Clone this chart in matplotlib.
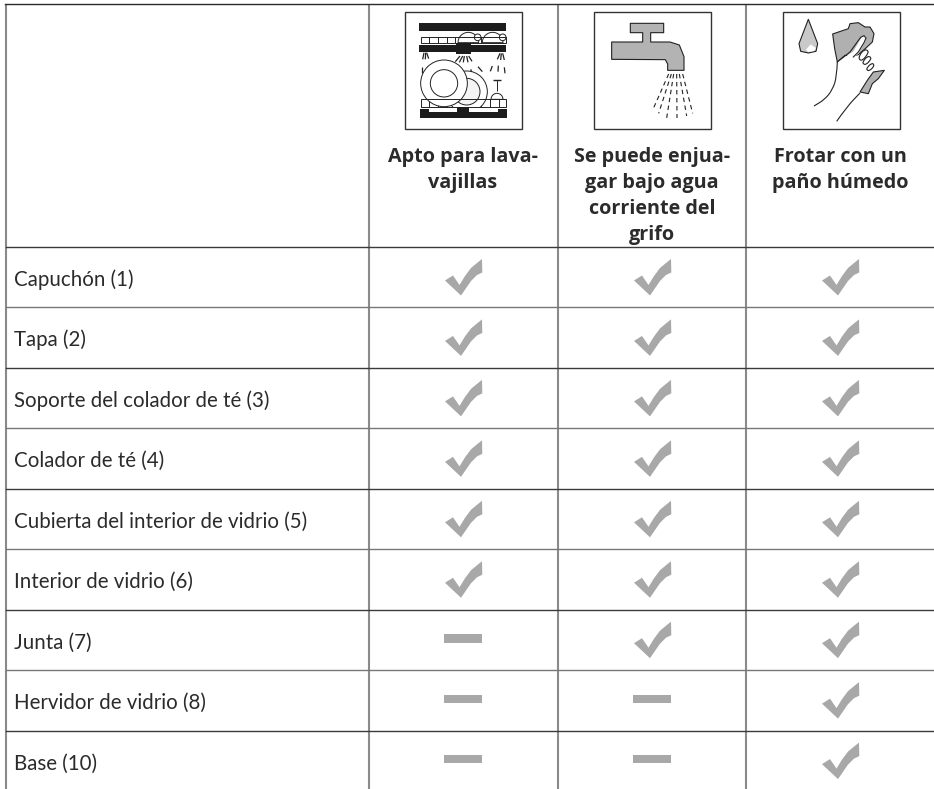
import numpy as np
import matplotlib
matplotlib.use("Agg")
import matplotlib.pyplot as plt
from matplotlib.patches import Polygon, Rectangle, Circle, PathPatch, Wedge
from matplotlib.path import Path

row_labels = ["Capuchón (1)", "Tapa (2)", "Soporte del colador de té (3)", "Colador de té (4)",
              "Cubierta del interior de vidrio (5)", "Interior de vidrio (6)", "Junta (7)",
              "Hervidor de vidrio (8)", "Base (10)"]
col_labels = [["Apto para lava-", "vajillas"],
              ["Se puede enjua-", "gar bajo agua", "corriente del", "grifo"],
              ["Frotar con un", "paño húmedo"]]
dishwasher = [1, 1, 1, 1, 1, 1, 0, 0, 0]
tap_rinse = [1, 1, 1, 1, 1, 1, 1, 0, 0]
damp_cloth = [1, 1, 1, 1, 1, 1, 1, 1, 1]
suitability = [dishwasher, tap_rinse, damp_cloth]

W, H = 934, 789
fig = plt.figure(figsize=(W / 100, H / 100), dpi=100)
ax = fig.add_axes([0, 0, 1, 1])
ax.set_xlim(0, W); ax.set_ylim(H, 0); ax.axis("off")

DARK = "#3a3a3a"; MID = "#777777"; MARK = "#a8a8a8"; TXT = "#2b2b2b"
row_top = 247.0; row_h = 60.45
col_lines = [6.0, 369.0, 557.7, 746.0]
col_mid = [463.0, 652.0, 840.0]
icon_x = [405.0, 594.0, 783.0]

# grid
for x in col_lines:
    ax.plot([x, x], [3.5, H], color="#8a8a8a", lw=1.5, zorder=1, solid_capstyle="butt")
ax.plot([5, W], [3.7, 3.7], color="#2a2a2a", lw=1.0, zorder=2)
for i in range(len(row_labels)):
    y = row_top + i * row_h
    ax.plot([6, W], [y, y], color=DARK if i % 2 == 0 else MID, lw=1.0, zorder=2)
    ax.text(14, y + 39.0, row_labels[i], family="Lato", fontsize=14.8, color=TXT, va="baseline", ha="left")

# header text
for mid, lines in zip(col_mid, col_labels):
    for k, s in enumerate(lines):
        ax.text(mid, 161.7 + k * 26.2, s, family="Open Sans", fontweight="bold", fontsize=14.2,
                color=TXT, ha="center", va="baseline")

# cell marks
check_shape = np.array([[-18, 12.5], [-10, 7.5], [-3.5, 17], [2, 8], [8, 0], [14, -5], [19, -9], [19.3, 4.5],
                        [14, 7], [8, 13], [-2, 27.5]])
for c, mid in enumerate(col_mid):
    for r, v in enumerate(suitability[c]):
        yc = row_top + r * row_h + 21.0
        if v:
            ax.add_patch(Polygon(check_shape + [mid, yc], closed=True, fc=MARK, ec="none", zorder=3))
        else:
            ax.add_patch(Rectangle((mid - 19, yc + 3.5), 38, 8.3, fc=MARK, ec="none", zorder=3))

# icon frames
for x0 in icon_x:
    ax.add_patch(Rectangle((x0, 12.3), 116.7, 116.4, fc="white", ec="#333333", lw=1.0, zorder=2))

def smooth(pts, closed=True):
    pts = np.array(pts, float)
    if closed:
        mids = (pts + np.roll(pts, -1, axis=0)) / 2
        v = [mids[-1]]; c = [Path.MOVETO]
        for p, m in zip(pts, mids):
            v += [p, m]; c += [Path.CURVE3, Path.CURVE3]
    else:
        v = [pts[0]]; c = [Path.MOVETO]
        for i in range(1, len(pts) - 1):
            v += [pts[i], (pts[i] + pts[i + 1]) / 2]; c += [Path.CURVE3, Path.CURVE3]
        v += [pts[-1]]; c += [Path.LINETO]
    return Path(np.array(v), c)

# ---- dishwasher icon
def D(x, y): return (370 + x / 3, y / 3)
def drect(x0, y0, x1, y1, **kw):
    ax.add_patch(Rectangle(D(x0, y0), (x1 - x0) / 3, (y1 - y0) / 3, zorder=kw.pop("zorder", 4), **kw))
def dline(x0, y0, x1, y1, lw=0.7):
    ax.plot(*zip(D(x0, y0), D(x1, y1)), color="#222222", lw=lw, zorder=4, solid_capstyle="butt")
def dcirc(x, y, r, z=4, fc="white", lw=0.7):
    ax.add_patch(Circle(D(x, y), r / 3, fc=fc, ec="#222222", lw=lw, zorder=z))

BLK = "#1c1c1c"
drect(147, 69, 408, 93, fc=BLK, ec="none")
for cx in (295, 368):
    ax.add_patch(Wedge(D(cx, 128), 31 / 3, 180, 360, fc="white", ec="#222222", lw=0.7, zorder=5))
for cx in (323, 398):
    dcirc(cx, 112, 10, z=5)
drect(152, 110, 408, 130, fc="none", ec="#222222", lw=0.7, zorder=6)
for x in np.arange(178, 408, 26):
    dline(x, 110, x, 130)
drect(148, 136, 408, 156, fc=BLK, ec="none", zorder=7)
drect(257, 128, 303, 162, fc=BLK, ec="none", zorder=7)
for a, b, c, d in [(158, 178, 162, 158), (166, 178, 167, 158), (176, 176, 170, 158),
                   (256, 185, 270, 168), (268, 187, 278, 168), (280, 187, 283, 168),
                   (294, 187, 290, 168), (306, 184, 296, 168),
                   (382, 178, 390, 160), (392, 180, 394, 160), (403, 180, 398, 160),
                   (155, 220, 155, 202), (178, 212, 172, 200), (197, 210, 192, 198),
                   (306, 218, 302, 208), (337, 215, 324, 200), (361, 214, 367, 198),
                   (384, 215, 385, 197), (405, 220, 403, 202)]:
    dline(a, b, c, d, lw=0.9)
dcirc(290, 275, 62, z=5)
dcirc(290, 275, 40, z=5, fc="#f4f4f4")
dcirc(222, 250, 70, z=6)
dcirc(222, 250, 41, z=6)
dline(369, 241, 392, 241, lw=1.0); dline(380, 241, 380, 272)
ax.add_patch(Wedge(D(381, 298), 18 / 3, 180, 360, fc="white", ec="#222222", lw=0.7, zorder=5))
drect(152, 298, 408, 320, fc="none", ec="#222222", lw=0.7, zorder=7)
for x in np.arange(178, 408, 26):
    dline(x, 298, x, 320)
drect(150, 327, 412, 353, fc=BLK, ec="none", zorder=7)
drect(178, 325, 262, 336, fc="white", ec="none", zorder=7)
drect(298, 325, 385, 336, fc="white", ec="none", zorder=7)
drect(262, 322, 298, 330, fc=BLK, ec="none", zorder=8)

# ---- tap icon
def T(x, y): return (560 + x / 3, y / 3)
tap = [(211, 70), (311, 70), (311, 98), (272, 98), (272, 126), (330, 126), (358, 135), (372, 170),
       (372, 211), (323, 211), (323, 192), (316, 179), (155, 178), (155, 126), (248, 126), (248, 98), (211, 98)]
ax.add_patch(Polygon([T(*p) for p in tap], closed=True, fc="#b3b3b3", ec="#222222", lw=0.8, zorder=4, joinstyle="round"))
for a, b in [((326, 222), (278, 330)), ((334, 222), (296, 340)), ((341, 222), (320, 354)),
             ((350, 222), (351, 354)), ((358, 222), (380, 348)), ((368, 222), (398, 340))]:
    ax.plot(*zip(T(*a), T(*b)), color="#222222", lw=0.8, ls=(0, (4, 3.2)), zorder=4)

# ---- damp cloth icon
def C(x, y): return (790 + x / 3, 12 + y / 3)
def P(pts): return [C(*p) for p in pts]
LINE = dict(ec="#222222", lw=0.8)
drop = [(55, 22), (27, 95), (32, 118), (55, 123), (78, 118), (83, 95)]
ax.add_patch(Polygon(P(drop), closed=True, fc="#c9c9c9", zorder=4, joinstyle="round", **LINE))
ax.add_patch(Polygon(P([(48, 113), (62, 97), (78, 108), (72, 117), (55, 120)]), closed=True, fc="white", ec="none", zorder=5))
cloth = [(128, 66), (175, 50), (180, 35), (205, 32), (225, 45), (240, 45), (252, 65), (247, 90), (228, 108),
         (205, 128), (190, 132), (165, 130), (142, 150), (134, 110)]
ax.add_patch(Polygon(P(cloth), closed=True, fc="#b0b0b0", zorder=4, joinstyle="round", **LINE))
cloth2 = [(250, 180), (283, 175), (265, 200), (247, 215), (235, 245), (210, 240), (232, 205)]
ax.add_patch(Polygon(P(cloth2), closed=True, fc="#b0b0b0", zorder=4, joinstyle="round", **LINE))
ax.add_patch(Polygon(P([(142, 150), (190, 118), (215, 75), (228, 72), (225, 90), (205, 125), (192, 137), (142, 160)]),
                     closed=True, fc="white", ec="none", zorder=5))
ax.plot(*zip(*P([(142, 150), (180, 120), (212, 76), (222, 71), (228, 78), (222, 92), (205, 120), (190, 135)])),
        color="#222222", lw=0.8, zorder=6)
for pts in [[(207, 132), (222, 112), (236, 116), (232, 128), (218, 145), (208, 144)],
            [(218, 150), (232, 132), (244, 136), (240, 146), (228, 158), (220, 156)],
            [(230, 168), (245, 153), (253, 158), (248, 168), (238, 176), (231, 175)]]:
    ax.add_patch(PathPatch(smooth(P(pts)), fc="white", zorder=5, **LINE))
for pts in [[(142, 150), (140, 195), (128, 232), (105, 262), (72, 282)],
            [(140, 328), (170, 285), (210, 243)]]:
    ax.add_patch(PathPatch(smooth(P(pts), closed=False), fc="none", zorder=6, **LINE))

fig.savefig("out.png", dpi=100)
